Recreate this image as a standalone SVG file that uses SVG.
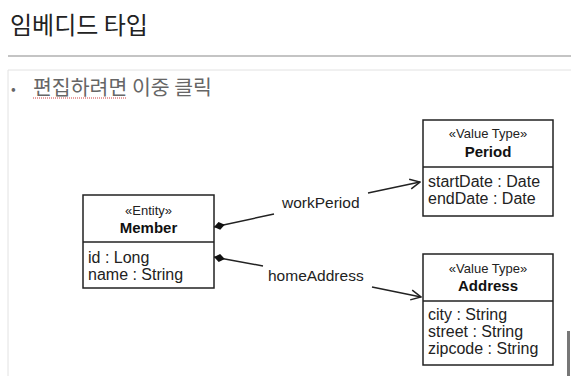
<svg xmlns="http://www.w3.org/2000/svg" width="571" height="376" viewBox="0 0 571 376">
<style>
.box{fill:#fff;stroke:#222;stroke-width:1.5}
.div{stroke:#222;stroke-width:1.5}
.st{font-family:"Liberation Sans",Arial,sans-serif;font-size:13px;fill:#222;text-anchor:middle}
.nm{font-family:"Liberation Sans",Arial,sans-serif;font-size:15px;font-weight:bold;fill:#111;text-anchor:middle}
.at{font-family:"Liberation Sans",Arial,sans-serif;font-size:16px;fill:#222}
.lb{font-family:"Liberation Sans",Arial,sans-serif;font-size:15.5px;fill:#222}
.ln{stroke:#222;stroke-width:1.5;fill:none}
</style>
<defs>
<marker id="dia" markerWidth="14" markerHeight="10" refX="0" refY="5" orient="auto" markerUnits="userSpaceOnUse">
<path d="M0,5 L5.5,1 L11,5 L5.5,9 Z" fill="#111"/>
</marker>
<marker id="arr" markerWidth="12" markerHeight="12" refX="11" refY="6" orient="auto" markerUnits="userSpaceOnUse">
<path d="M1,1 L11,6 L1,11" fill="none" stroke="#222" stroke-width="1.5"/>
</marker>
</defs>
<rect width="571" height="376" fill="#fff"/>
<text x="10" y="34" font-family="'Noto Sans CJK KR',sans-serif" font-size="24" fill="#222">임베디드 타입</text>
<line x1="8" y1="56" x2="571" y2="56" stroke="#c4c4c4" stroke-width="2"/>
<path d="M8,376 V70 H571" fill="none" stroke="#e2e2e2" stroke-width="1"/>
<text x="11" y="94" font-family="'Noto Sans CJK KR',sans-serif" font-size="14" fill="#666">•</text>
<text x="33" y="95" font-family="'Noto Sans CJK KR',sans-serif" font-size="20.5" fill="#666">편집하려면 이중 클릭</text>
<line x1="33" y1="98" x2="127" y2="98" stroke="#d04040" stroke-width="1" stroke-dasharray="1,1"/>
<rect x="567" y="331" width="3" height="45" fill="#777"/>

<g id="connectors">
<line class="ln" x1="214" y1="227" x2="274" y2="214" marker-start="url(#dia)"/>
<line class="ln" x1="368" y1="193" x2="420" y2="182" marker-end="url(#arr)"/>
<text class="lb" x="282" y="208">workPeriod</text>
<line class="ln" x1="214" y1="257" x2="263" y2="266" marker-start="url(#dia)"/>
<line class="ln" x1="372" y1="287" x2="421" y2="297" marker-end="url(#arr)"/>
<text class="lb" x="268" y="281">homeAddress</text>
</g>

<g id="member">
<rect class="box" x="83" y="195" width="131" height="93"/>
<line class="div" x1="83" y1="242" x2="214" y2="242"/>
<text class="st" x="148.5" y="215">«Entity»</text>
<text class="nm" x="148.5" y="233">Member</text>
<text class="at" x="88" y="263">id : Long</text>
<text class="at" x="88" y="280">name : String</text>
</g>

<g id="period">
<rect class="box" x="423" y="120" width="130" height="96"/>
<line class="div" x1="423" y1="167" x2="553" y2="167"/>
<text class="st" x="488" y="138">«Value Type»</text>
<text class="nm" x="488" y="157">Period</text>
<text class="at" x="428" y="187">startDate : Date</text>
<text class="at" x="428" y="204">endDate : Date</text>
</g>

<g id="address">
<rect class="box" x="423" y="254" width="130" height="111"/>
<line class="div" x1="423" y1="301" x2="553" y2="301"/>
<text class="st" x="488" y="273">«Value Type»</text>
<text class="nm" x="488" y="291">Address</text>
<text class="at" x="428" y="320">city : String</text>
<text class="at" x="428" y="337">street : String</text>
<text class="at" x="428" y="354">zipcode : String</text>
</g>
</svg>
